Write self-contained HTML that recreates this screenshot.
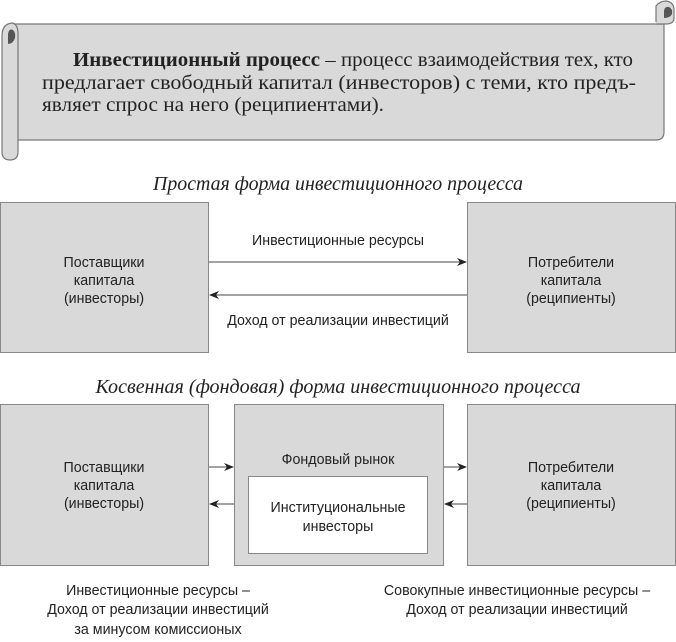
<!DOCTYPE html>
<html><head><meta charset="utf-8"><style>
body{margin:0;background:#fff;width:676px;height:642px;overflow:hidden}
svg{display:block}
.n{font-family:"Liberation Sans",sans-serif;font-size:15px;fill:#222;text-anchor:middle}
.s{font-family:"Liberation Serif",serif;font-size:20px;fill:#222}
.i{font-family:"Liberation Serif",serif;font-size:20px;font-style:italic;fill:#222;text-anchor:middle}
</style></head><body>
<svg width="676" height="642" viewBox="0 0 676 642">
<defs><marker id="a" markerWidth="10" markerHeight="8" refX="9" refY="4" orient="auto" markerUnits="userSpaceOnUse"><path d="M0,0 L10,4 L0,8 L3,4z" fill="#222"/></marker></defs>
<path d="M14,24 H664 V132 Q664,140 656,140 H18 Z" fill="#d9d9d9" stroke="#777" stroke-width="1.2"/>
<path d="M656,22 V6 Q660,1 666,1 Q674,2 674,10 V18 Q674,24 666,24 H656" fill="#d9d9d9" stroke="#777" stroke-width="1.2"/>
<path d="M664,22 V12 Q664,6 669,7 Q673,9 672,14 Q670,18 664,18" fill="#555"/>
<path d="M2,36 Q2,24 12,23 Q18,24 18,34 V152 Q18,160 10,160 Q2,160 2,152 Z" fill="#d9d9d9" stroke="#777" stroke-width="1.2"/>
<path d="M8,44 V34 Q9,28 13,30 Q16,33 15,38 Q13,44 8,44" fill="#555"/>
<text class="s" x="73" y="66" textLength="560" lengthAdjust="spacingAndGlyphs"><tspan font-weight="bold">Инвестиционный процесс</tspan> – процесс взаимодействия тех, кто</text>
<text class="s" x="42" y="89" textLength="594" lengthAdjust="spacingAndGlyphs">предлагает свободный капитал (инвесторов)  с теми, кто предъ-</text>
<text class="s" x="42" y="111" textLength="342" lengthAdjust="spacingAndGlyphs">являет спрос на него (реципиентами).</text>
<text class="i" x="338" y="190" textLength="370" lengthAdjust="spacingAndGlyphs">Простая форма инвестиционного процесса</text>
<rect x="0.5" y="202.5" width="208" height="150" fill="#d9d9d9" stroke="#888"/>
<rect x="467.5" y="202.5" width="208" height="150" fill="#d9d9d9" stroke="#888"/>
<text class="n" transform="translate(104,267) scale(0.95,1)">Поставщики</text>
<text class="n" transform="translate(104,285) scale(0.95,1)">капитала</text>
<text class="n" transform="translate(104,303) scale(0.95,1)">(инвесторы)</text>
<text class="n" transform="translate(571,267) scale(0.95,1)">Потребители</text>
<text class="n" transform="translate(571,285) scale(0.95,1)">капитала</text>
<text class="n" transform="translate(571,303) scale(0.95,1)">(реципиенты)</text>
<text class="n" transform="translate(338,245) scale(0.95,1)">Инвестиционные ресурсы</text>
<text class="n" transform="translate(338,325) scale(0.95,1)">Доход от реализации инвестиций</text>
<line x1="209" y1="262" x2="466" y2="262" stroke="#444" marker-end="url(#a)"/>
<line x1="467" y1="295" x2="210" y2="295" stroke="#444" marker-end="url(#a)"/>
<text class="i" x="338" y="393" textLength="485" lengthAdjust="spacingAndGlyphs">Косвенная (фондовая)  форма инвестиционного процесса</text>
<rect x="0.5" y="404.5" width="208" height="161" fill="#d9d9d9" stroke="#888"/>
<rect x="234.5" y="404.5" width="209" height="161" fill="#d9d9d9" stroke="#888"/>
<rect x="467.5" y="404.5" width="208" height="161" fill="#d9d9d9" stroke="#888"/>
<rect x="248.5" y="476.5" width="179" height="77" fill="#fff" stroke="#888"/>
<text class="n" transform="translate(104,472) scale(0.95,1)">Поставщики</text>
<text class="n" transform="translate(104,490) scale(0.95,1)">капитала</text>
<text class="n" transform="translate(104,508) scale(0.95,1)">(инвесторы)</text>
<text class="n" transform="translate(571,472) scale(0.95,1)">Потребители</text>
<text class="n" transform="translate(571,490) scale(0.95,1)">капитала</text>
<text class="n" transform="translate(571,508) scale(0.95,1)">(реципиенты)</text>
<text class="n" transform="translate(338,464) scale(0.95,1)">Фондовый рынок</text>
<text class="n" transform="translate(338,512) scale(0.95,1)">Институциональные</text>
<text class="n" transform="translate(338,531) scale(0.95,1)">инвесторы</text>
<line x1="209" y1="467" x2="233" y2="467" stroke="#444" marker-end="url(#a)"/>
<line x1="234" y1="504" x2="210" y2="504" stroke="#444" marker-end="url(#a)"/>
<line x1="444" y1="467" x2="466" y2="467" stroke="#444" marker-end="url(#a)"/>
<line x1="467" y1="504" x2="445" y2="504" stroke="#444" marker-end="url(#a)"/>
<text class="n" transform="translate(158,595) scale(0.95,1)">Инвестиционные ресурсы –</text>
<text class="n" transform="translate(158,614) scale(0.95,1)">Доход от реализации инвестиций</text>
<text class="n" transform="translate(158,634) scale(0.95,1)">за минусом комиссионых</text>
<text class="n" transform="translate(517,595) scale(0.95,1)">Совокупные инвестиционные ресурсы –</text>
<text class="n" transform="translate(517,614) scale(0.95,1)">Доход от реализации инвестиций</text>
</svg>
</body></html>
